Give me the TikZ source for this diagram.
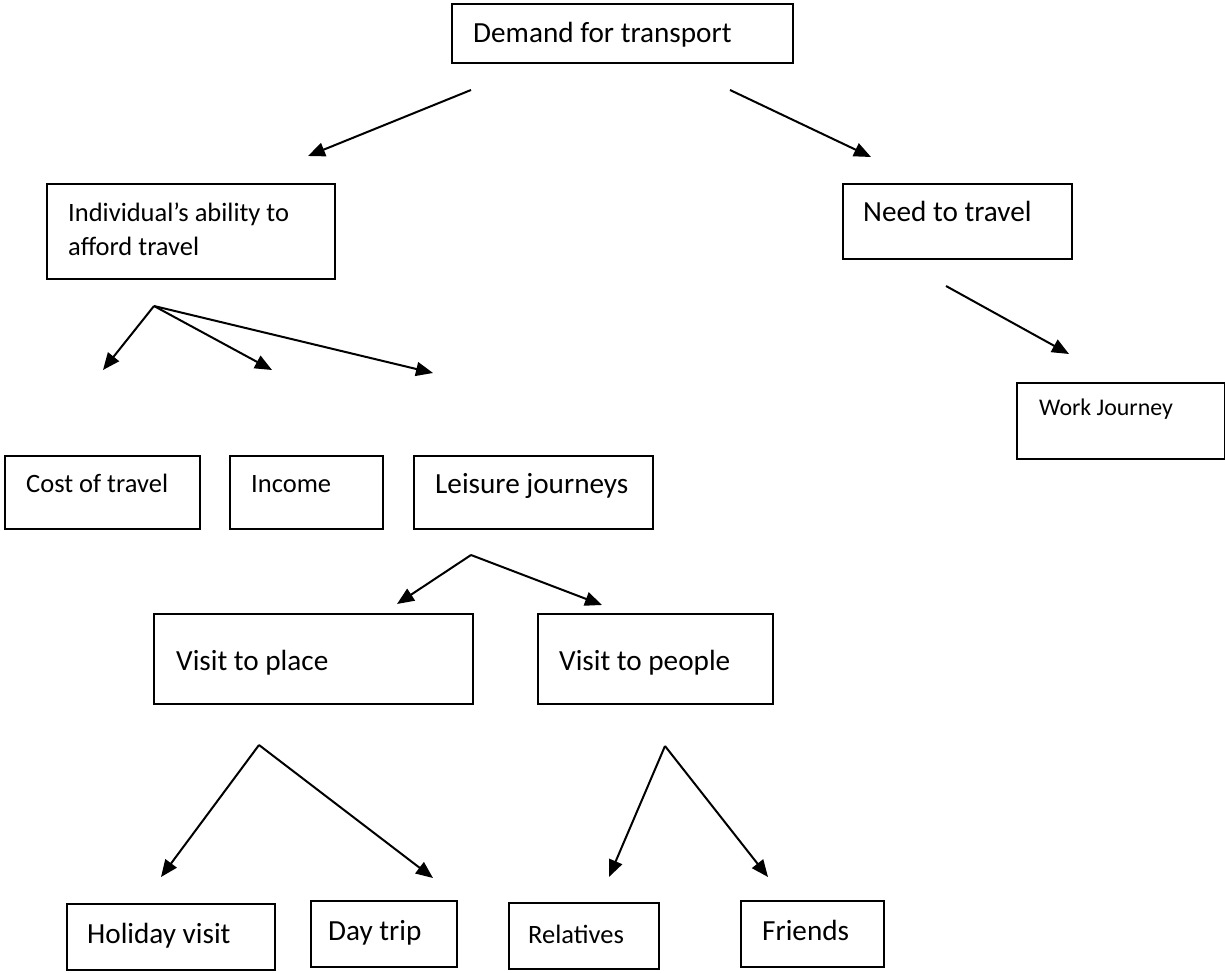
\documentclass[tikz,border=0pt]{standalone}
\usepackage{fontspec}
\setmainfont{Carlito}
\usetikzlibrary{arrows.meta}

% type sizes on the 1pt grid of the picture
\newcommand\szL{\fontsize{29.2}{35}\selectfont}
\newcommand\szM{\fontsize{26.5}{34}\selectfont}
\newcommand\szS{\fontsize{23.9}{29}\selectfont}

\tikzset{
  box/.style={draw, line width=1.6pt, inner sep=0pt, anchor=north west},
  lbl/.style={anchor=base west, inner sep=0pt},
  arr/.style={line width=2pt, -{Triangle[length=17pt,width=14pt]}},
}

\begin{document}
\begin{tikzpicture}[x=1pt,y=-1pt]
\useasboundingbox (0,0) rectangle (1225,973);

% ---- boxes ----
\node[box, minimum width=341pt, minimum height=59pt] (demand)   at (451,3)   {};
\node[box, minimum width=288pt, minimum height=95pt] (afford)   at (46,183)  {};
\node[box, minimum width=229pt, minimum height=75pt] (need)     at (842,183) {};
\node[box, minimum width=208pt, minimum height=76pt] (work)     at (1016,382){};
\node[box, minimum width=195pt, minimum height=73pt] (cost)     at (4,455)   {};
\node[box, minimum width=153pt, minimum height=73pt] (income)   at (229,455) {};
\node[box, minimum width=239pt, minimum height=73pt] (leisure)  at (413,455) {};
\node[box, minimum width=319pt, minimum height=90pt] (place)    at (153,613) {};
\node[box, minimum width=235pt, minimum height=90pt] (people)   at (537,613) {};
\node[box, minimum width=208pt, minimum height=66pt] (holiday)  at (66,903)  {};
\node[box, minimum width=146pt, minimum height=66pt] (daytrip)  at (310,900) {};
\node[box, minimum width=150pt, minimum height=66pt] (relatives) at (508,902){};
\node[box, minimum width=143pt, minimum height=66pt] (friends)  at (740,900) {};

% ---- texts ----
\node[lbl, font=\szL] (tdemand)  at (473,43)  {Demand for transport};
\node[lbl, font=\szM] (tafford1) at (68,222)  {Individual’s ability to};
\node[lbl, font=\szM] (tafford2) at (68,256)  {afford travel};
\node[lbl, font=\szL] (tneed)    at (863,222) {Need to travel};
\node[lbl, font=\szS] (twork)    at (1039,415){Work Journey};
\node[lbl, font=\szM] (tcost)    at (26,492)  {Cost of travel};
\node[lbl, font=\szM] (tincome)  at (251,492) {Income};
\node[lbl, font=\szL] (tleisure) at (435,493) {Leisure journeys};
\node[lbl, font=\szL] (tplace)   at (176,670) {Visit to place};
\node[lbl, font=\szL] (tpeople)  at (559,670) {Visit to people};
\node[lbl, font=\szL] (tholiday) at (87,943)  {Holiday visit};
\node[lbl, font=\szL] (tday)     at (328,940) {Day trip};
\node[lbl, font=\szM] (trel)     at (528,943) {Relatives};
\node[lbl, font=\szL] (tfriends) at (762,940) {Friends};

% ---- connector ends ----
\coordinate (d0) at (471,90);   \coordinate (d1) at (308,156);
\coordinate (d2) at (730,90);   \coordinate (d3) at (871,157);
\coordinate (f0) at (154,306);
\coordinate (f1) at (103,370);  \coordinate (f2) at (272,370);  \coordinate (f3) at (433,373);
\coordinate (n0) at (946,286);  \coordinate (n1) at (1069,354);
\coordinate (l0) at (471,555);
\coordinate (l1) at (397,604);  \coordinate (l2) at (602,605);
\coordinate (p0) at (259,745);
\coordinate (p1) at (161,877);  \coordinate (p2) at (433,878);
\coordinate (q0) at (665,746);
\coordinate (q1) at (609,877);  \coordinate (q2) at (768,877);

% ---- arrows ----
\draw[arr] (d0) -- (d1);
\draw[arr] (d2) -- (d3);
\draw[arr] (f0) -- (f1);
\draw[arr] (f0) -- (f2);
\draw[arr] (f0) -- (f3);
\draw[arr] (n0) -- (n1);
\draw[arr] (l0) -- (l1);
\draw[arr] (l0) -- (l2);
\draw[arr] (p0) -- (p1);
\draw[arr] (p0) -- (p2);
\draw[arr] (q0) -- (q1);
\draw[arr] (q0) -- (q2);
\end{tikzpicture}
\end{document}
